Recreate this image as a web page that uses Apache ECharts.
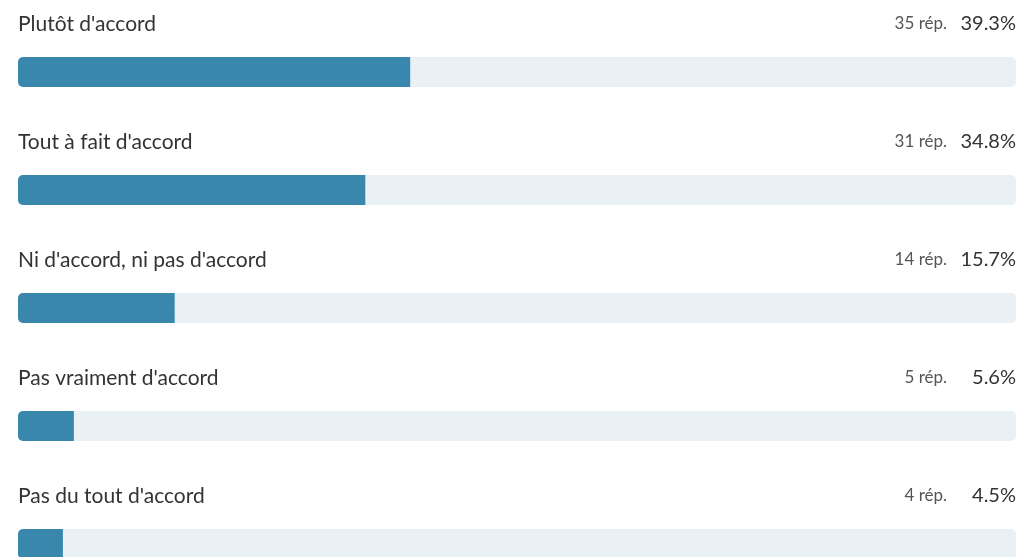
<!DOCTYPE html>
<html><head><meta charset="utf-8">
<script src="https://cdn.jsdelivr.net/npm/echarts@6/dist/echarts.min.js"></script>
<style>html,body{margin:0;padding:0;background:#fff}#c{width:1022px;height:557px}</style>
</head><body><div id="c"></div>
<script>
const categories = ["Plutôt d'accord", "Tout à fait d'accord", "Ni d'accord, ni pas d'accord", "Pas vraiment d'accord", "Pas du tout d'accord"];
const responses = [35, 31, 14, 5, 4];
const percents = [39.3, 34.8, 15.7, 5.6, 4.5];
const trackValues = [100, 100, 100, 100, 100];

const chart = echarts.init(document.getElementById('c'));
const FONT = 'Lato';
chart.setOption({
  animation: false,
  grid: { left: 18, top: 72, width: 998, height: 472, containLabel: false },
  xAxis: { type: 'value', min: 0, max: 100, show: false },
  yAxis: { type: 'category', data: categories, inverse: true, show: false, boundaryGap: false },
  series: [
    {
      type: 'bar', data: trackValues, barWidth: 30, silent: true,
      itemStyle: { color: '#e9f1f5', borderRadius: 5 },
      label: {
        show: true, position: ['100%', -33], align: 'right', verticalAlign: 'middle',
        formatter: p => '{a|' + responses[p.dataIndex] + ' rép.}{b|' + percents[p.dataIndex].toFixed(1) + '%}',
        rich: {
          a: { fontFamily: FONT, fontSize: 17, color: '#555' },
          b: { fontFamily: FONT, fontSize: 20, color: '#333', width: 69, align: 'right' }
        }
      },
      z: 1
    },
    {
      type: 'bar', data: percents, barWidth: 30, barGap: '-100%',
      itemStyle: { color: '#3a87ad', borderRadius: [5, 0, 0, 5] },
      label: {
        show: true, position: [0, -33], align: 'left', verticalAlign: 'middle',
        formatter: p => categories[p.dataIndex],
        fontFamily: FONT, fontSize: 21, color: '#333'
      },
      z: 2
    }
  ]
});
</script></body></html>
